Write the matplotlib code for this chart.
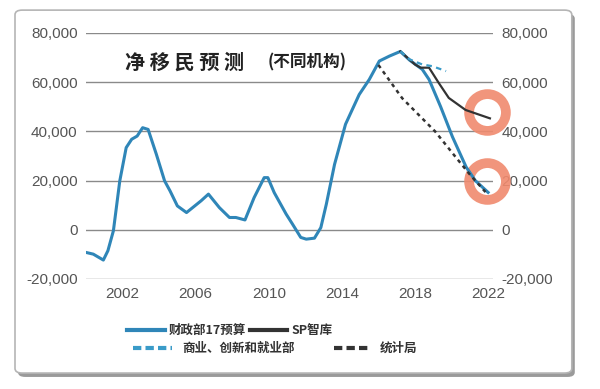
import numpy as np
import matplotlib
matplotlib.use("Agg")
from matplotlib import pyplot as plt
from matplotlib.patches import FancyBboxPatch
from matplotlib.lines import Line2D

# Treasury (财政部17预算) net migration
mof_years = [2000.0, 2000.4, 2000.95, 2001.2, 2001.5, 2001.85, 2002.2, 2002.5, 2002.8,
             2003.1, 2003.4, 2003.85, 2004.3, 2004.6, 2005.0, 2005.5, 2005.95, 2006.3,
             2006.7, 2007.3, 2007.85, 2008.2, 2008.7, 2009.2, 2009.75, 2009.95, 2010.3,
             2010.95, 2011.3, 2011.75, 2012.05, 2012.5, 2012.85, 2013.15, 2013.6, 2014.2,
             2014.95, 2015.5, 2016.05, 2016.6, 2017.2, 2017.7, 2018.4, 2018.77, 2019.4,
             2020.05, 2020.8, 2021.3, 2022.0]
mof_vals = [-9200, -9900, -12300, -8500, -400, 19900, 33400, 36800, 38100,
            41500, 40800, 30700, 19900, 15800, 9700, 7000, 9700, 11800,
            14500, 9000, 5000, 5000, 4000, 13100, 21200, 21200, 15100,
            6400, 2300, -3100, -3800, -3400, 900, 10400, 26600, 42900,
            55000, 61100, 68600, 70600, 72500, 69000, 65200, 61100, 50100,
            37800, 25500, 20000, 15200]

# SP智库
sp_years = [2017.2, 2018.0, 2018.3, 2018.77, 2019.3, 2019.85, 2020.77, 2022.1]
sp_vals = [72500, 67200, 65900, 65900, 59700, 53600, 48700, 45300]

# 商业、创新和就业部
mbie_years = [2017.2, 2017.7, 2018.4, 2018.95, 2019.7]
mbie_vals = [72500, 69300, 67200, 66500, 64500]

# 统计局
stats_years = [2016.0, 2017.3, 2019.1, 2020.2, 2021.0, 2021.9]
stats_vals = [67000, 53500, 40000, 29800, 22500, 15000]

# highlighted end points (orange rings)
ring_years = [2021.95, 2021.95]
ring_vals = [47700, 19700]

yticks = [-20000, 0, 20000, 40000, 60000, 80000]
xticks = [2002, 2006, 2010, 2014, 2018, 2022]

blue = "#2f86b8"
teal = "#3a9bc8"
dark = "#333333"
ring_col = "#f08a6e"
cjk = ["Noto Sans CJK SC", "DejaVu Sans"]

fig = plt.figure(figsize=(6, 3.89), dpi=100)
fig.patch.set_facecolor("white")

# rounded frame with shadow
shadow = FancyBboxPatch((0.030, 0.031), 0.928, 0.933, boxstyle="round,pad=0,rounding_size=0.012",
                        transform=fig.transFigure, facecolor="#9a9a9a", edgecolor="none", zorder=-2)
frame = FancyBboxPatch((0.025, 0.041), 0.928, 0.933, boxstyle="round,pad=0,rounding_size=0.012",
                       transform=fig.transFigure, facecolor="white", edgecolor="#b5b5b5",
                       linewidth=1.2, zorder=-1)
fig.patches.extend([shadow, frame])

ax = fig.add_axes([0.1433, 0.2828, 0.6784, 0.6324])
ax.set_facecolor("none")
ax.set_xlim(2000, 2022.27)
ax.set_ylim(-20000, 80000)
for s in ax.spines.values():
    s.set_visible(False)
ax.set_yticks(yticks)
ax.set_yticklabels([f"{v:,}" for v in yticks])
ax.set_xticks(xticks)
ax.grid(axis="y", color="#8a8a8a", linewidth=1)
ax.set_axisbelow(True)
ax.tick_params(axis="both", length=0, labelsize=11, labelcolor="#555555",
               labelright=True, labelfontfamily="Liberation Sans")
ax.tick_params(axis="y", pad=6)
ax.tick_params(axis="x", pad=6)

ax.plot(ring_years, ring_vals, linestyle="none", marker="o", markersize=26.5,
        markerfacecolor="none", markeredgecolor=ring_col, markeredgewidth=7,
        alpha=0.9, clip_on=False, zorder=2.6)

ax.plot(mof_years, mof_vals, color=blue, linewidth=2.2, solid_joinstyle="round", zorder=3)
ax.plot(sp_years, sp_vals, color=dark, linewidth=1.6, zorder=3)
ax.plot(mbie_years, mbie_vals, color=teal, linewidth=1.6, linestyle=(0, (2.5, 2)), zorder=3)
ax.plot(stats_years, stats_vals, color=dark, linewidth=1.8, linestyle=(0, (1.5, 1.6)), zorder=3)

# title
fig.text(125 / 600, 1 - 62 / 389, "净 移 民 预 测", family=cjk, fontsize=14.5,
         fontweight="bold", color="#222222", va="center", ha="left")
fig.text(268 / 600, 1 - 62 / 389, "(不同机构)", family=cjk, fontsize=12,
         fontweight="bold", color="#222222", va="center", ha="left")

# legend drawn by hand
def legend_item(x0, x1, y, color, ls, label, tx):
    yf = 1 - y / 389
    fig.add_artist(Line2D([x0 / 600, x1 / 600], [yf, yf], color=color, linewidth=3,
                          linestyle=ls, transform=fig.transFigure))
    fig.text(tx / 600, yf, label, family=cjk, fontsize=9, fontweight="bold",
             color="#333333", va="center", ha="left")

legend_item(127, 165, 330, blue, "-", "财政部17预算", 169)
legend_item(250, 287, 330, dark, "-", "SP智库", 292)
legend_item(133, 172, 348, teal, (0, (2, 1)), "商业、创新和就业部", 182)
legend_item(334, 371, 348, dark, (0, (2, 1)), "统计局", 380)

fig.savefig("out.png", dpi=100)
